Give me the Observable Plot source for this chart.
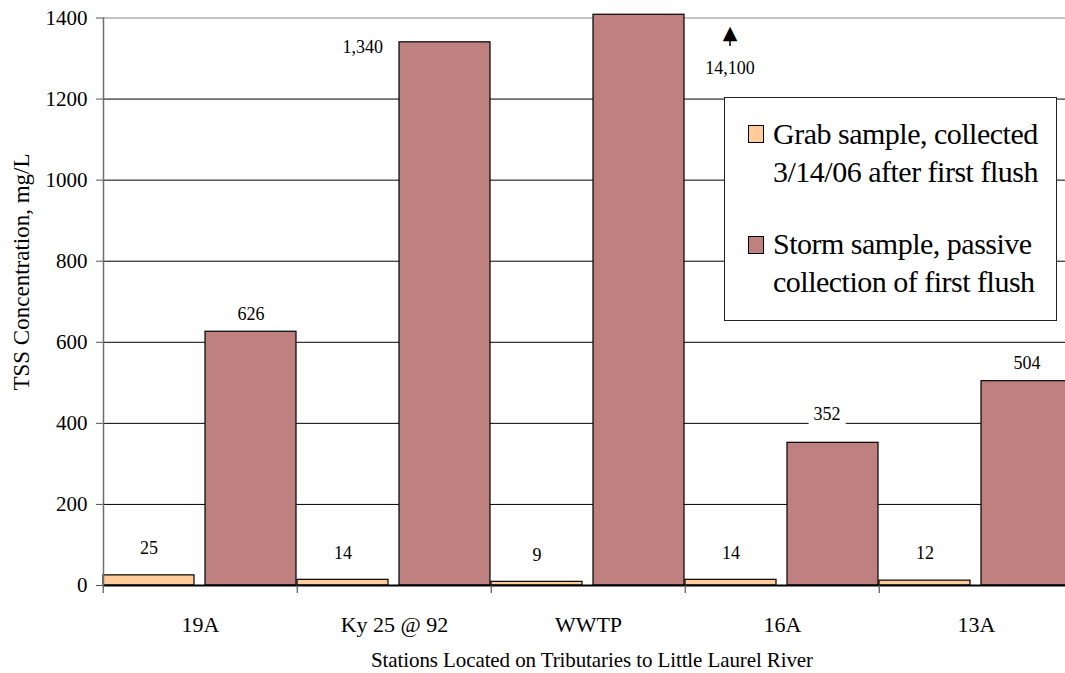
<!DOCTYPE html>
<html>
<head>
<meta charset="utf-8">
<script src="https://cdn.jsdelivr.net/npm/d3@7"></script>
<script src="https://cdn.jsdelivr.net/npm/@observablehq/plot@0.6"></script>
<style>
  html, body { margin: 0; padding: 0; background: white; overflow: hidden; }
  #wrap { position: relative; width: 1065px; height: 673px; overflow: hidden; font-family: 'Liberation Serif', serif; color: #000; }
  #chart svg { display: block; }
  .ytitle { position: absolute; left: 22px; top: 272px; transform: translate(-50%, -50%) rotate(-90deg); white-space: nowrap; font-size: 23px; font-family: 'Liberation Serif', serif; }
  .xtitle { position: absolute; left: 592px; top: 660px; transform: translate(-50%, -50%); white-space: nowrap; font-size: 21px; letter-spacing: -0.1px; font-family: 'Liberation Serif', serif; }
  .legend { position: absolute; left: 724px; top: 97px; width: 333px; height: 224px; border: 1px solid #222; background: white; box-sizing: border-box; }
  .legend .sw { position: absolute; width: 16px; height: 18px; border: 1px solid #000; box-sizing: border-box; }
  .legend .tx { position: absolute; left: 48px; font-family: 'Liberation Serif', serif; font-size: 30px; line-height: 38px; white-space: nowrap; letter-spacing: -0.5px; }
</style>
</head>
<body>
<div id="wrap">
  <div id="chart"></div>
  <div class="ytitle">TSS Concentration, mg/L</div>
  <div class="xtitle">Stations Located on Tributaries to Little Laurel River</div>
  <div class="legend">
    <div class="sw" style="left:23px; top:27px; background:#FFCC99;"></div>
    <div class="tx" style="top:17px;">Grab sample, collected<br>3/14/06 after first flush</div>
    <div class="sw" style="left:23px; top:138px; background:#BF8080;"></div>
    <div class="tx" style="top:127px;">Storm sample, passive<br>collection of first flush</div>
  </div>
</div>
<script>
const stations = ["19A", "Ky 25 @ 92", "WWTP", "16A", "13A"];
const series = ["grab", "storm"];
const seriesNames = ["Grab sample, collected 3/14/06 after first flush", "Storm sample, passive collection of first flush"];
const grabValues = [25, 14, 9, 14, 12];
const stormValues = [626, 1340, 14100, 352, 504];
const yTicks = [0, 200, 400, 600, 800, 1000, 1200, 1400];
const yMax = 1400;
const breakTop = 1408; // off-scale bar drawn just past the top of the axis
const colors = ["#FFCC99", "#BF8080"];

const data = [];
stations.forEach((s, i) => {
  data.push({station: s, series: "grab", value: grabValues[i]});
  data.push({station: s, series: "storm", value: stormValues[i]});
});
const grabData = data.filter(d => d.series === "grab");
const stormData = data.filter(d => d.series === "storm");
const fmt = d3.format(",");

// annotation for the off-scale WWTP storm value
const offScale = stormData.filter(d => d.value > yMax);
const offScaleNote = offScale.map(d => ({station: "16A", series: "grab", label: fmt(d.value)}));

const stormNormal = stormData.filter(d => d.value <= yMax && d.value !== 1340 && d.value !== 352);
const stormLeft = stormData.filter(d => d.value === 1340);
const stormHigh = stormData.filter(d => d.value === 352);

const plot = Plot.plot({
  width: 1065,
  height: 673,
  marginLeft: 102,
  marginRight: -9,
  marginTop: 17.5,
  marginBottom: 88,
  style: {fontFamily: "'Liberation Serif', serif", fontSize: "20px", background: "white", color: "#000"},
  fx: {domain: stations, padding: 0, label: null},
  x: {domain: series, paddingInner: 0.107, paddingOuter: 0, axis: null},
  y: {domain: [0, yMax], label: null},
  color: {domain: series, range: colors},
  marks: [
    Plot.gridY(yTicks.filter(t => t > 0 && t < yMax), {stroke: "#000", strokeOpacity: 1, strokeWidth: 1}),
    Plot.gridY([yMax], {stroke: "#8a8a8a", strokeOpacity: 1, strokeWidth: 1.2}),
    Plot.barY(data, {
      fx: "station", x: "series",
      y: d => Math.min(d.value, breakTop),
      fill: "series", stroke: "#000", strokeWidth: 1.2
    }),
    Plot.ruleY([0], {stroke: "#000", strokeWidth: 2}),
    Plot.axisY({ticks: yTicks, tickFormat: d3.format("d"), tickSize: 7, tickPadding: 9, fontSize: 21, label: null, stroke: "#555"}),
    Plot.frame({anchor: "left", facetAnchor: "left", stroke: "#6e6e6e", strokeWidth: 1.5}),
    // category boundary ticks below the axis (left edge of each station group)
    Plot.ruleX(stations, {fx: d => d, x: () => "grab", dx: -45.75, y1: 0, y2: -20, stroke: "#555", strokeWidth: 1.2}),
    Plot.axisFx({anchor: "bottom", tickSize: 0, tickPadding: 31, fontSize: 22, label: null}),
    // value labels
    Plot.text(grabData, {fx: "station", x: "series", y: "value", text: d => fmt(d.value), dy: -27, fontSize: 18}),
    Plot.text(stormNormal, {fx: "station", x: "series", y: "value", text: d => fmt(d.value), dy: -18, fontSize: 18}),
    Plot.text(stormHigh, {fx: "station", x: "series", y: "value", text: d => fmt(d.value), dy: -29, dx: -6, fontSize: 18, fill: "#000", stroke: "white", strokeWidth: 14, paintOrder: "stroke"}),
    Plot.text(stormLeft, {fx: "station", x: "series", y: "value", text: d => fmt(d.value), dx: -62, dy: 5, textAnchor: "end", fontSize: 18}),
    // off-scale note
    Plot.text(offScaleNote, {fx: "station", x: "series", y: 1275, text: "label", fontSize: 18, dx: -1}),
    Plot.ruleX(offScaleNote, {fx: "station", x: "series", y1: 1330, y2: 1350, stroke: "#000", strokeWidth: 1.5, dx: -1}),
    Plot.text(offScaleNote, {fx: "station", x: "series", y: 1362, text: () => "▲", fontFamily: "DejaVu Sans", fontSize: 19, dx: -1})
  ]
});
document.getElementById("chart").appendChild(plot);
</script>
</body>
</html>
